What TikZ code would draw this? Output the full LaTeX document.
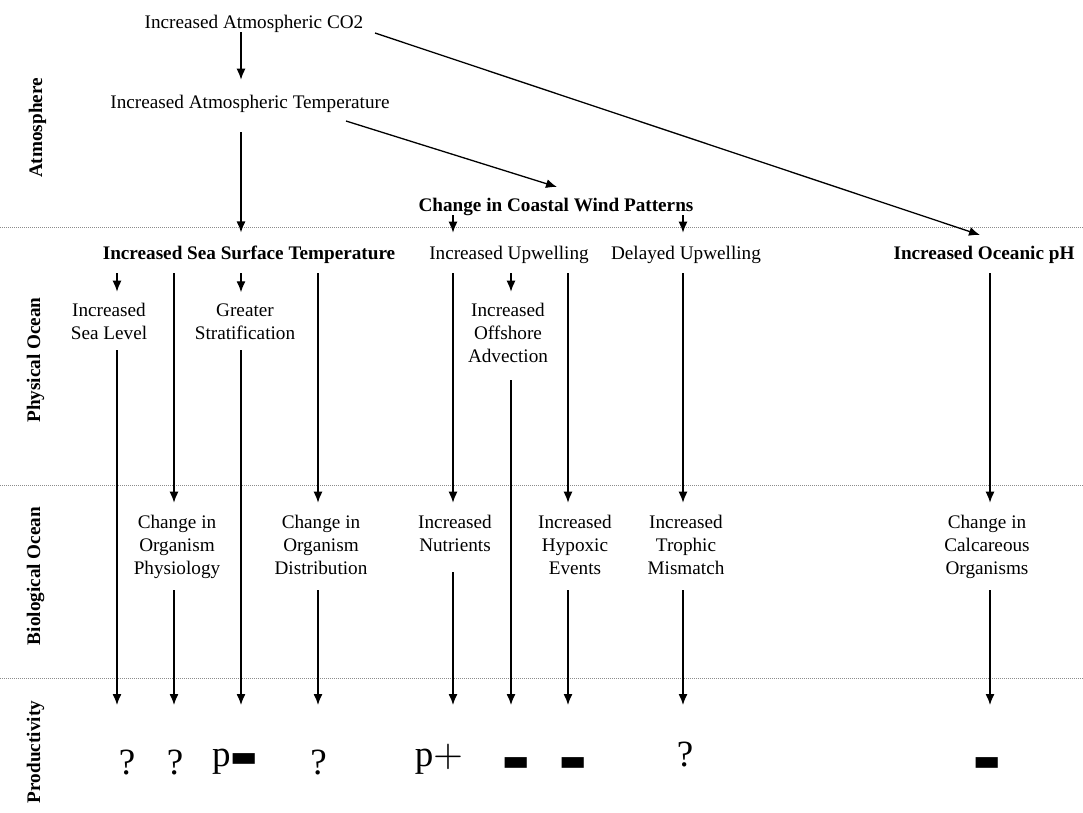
\documentclass[tikz,border=0pt]{standalone}
\usepackage{fontspec}
\setmainfont{Liberation Serif}
\newfontfamily\barfont{DejaVu Sans}
\newfontfamily\lmfont{lmroman10-regular.otf}
\usetikzlibrary{arrows.meta}
\newcommand{\fsz}{\fontsize{19.2}{23}\selectfont}
\newcommand{\bigsym}{\fontsize{37}{40}\selectfont}
\newcommand{\minusbar}{{\barfont\fontsize{29}{32}\selectfont ▬}}
\begin{document}
\begin{tikzpicture}[x=1pt,y=-1pt,
  lbl/.style={font=\fsz, align=center, inner sep=0pt, outer sep=0pt, anchor=base},
  blbl/.style={lbl, font=\fsz\bfseries},
  side/.style={font=\fsz\bfseries, rotate=90, anchor=base, inner sep=0pt},
  arr/.style={-{Latex[length=11pt,width=9pt]}, line width=1.3pt},
  sep/.style={black!45, line width=0.9pt, dash pattern=on 0.9pt off 1.1pt},
  sym/.style={inner sep=0pt, outer sep=0pt, font=\bigsym},
]
\fill[white] (0,0) rectangle (1083,812);
\useasboundingbox (0,0) rectangle (1083,812);

% layer separators
\draw[sep] (0,227) -- (1083,227);
\draw[sep] (0,485) -- (1083,485);
\draw[sep] (0,678) -- (1083,678);

% side labels
\node[side] (la) at (42,128) {Atmosphere};
\node[side] (lp) at (40,360) {Physical Ocean};
\node[side] (lb) at (40,576) {Biological Ocean};
\node[side] (lq) at (40,752) {Productivity};

% atmosphere
\node[lbl] (co2) at (254,28) {Increased Atmospheric CO2};
\node[lbl] (atmt) at (250,108) {Increased Atmospheric Temperature};
\node[blbl] (wind) at (556,211) {Change in Coastal Wind Patterns};

% physical ocean
\node[blbl] (sst) at (249,259) {Increased Sea Surface Temperature};
\node[lbl] (upw) at (509,259) {Increased Upwelling};
\node[lbl] (dup) at (686,259) {Delayed Upwelling};
\node[blbl] (ph) at (984,259) {Increased Oceanic pH};
\node[lbl] (sl) at (109,339) {Increased\\Sea Level};
\node[lbl] (strat) at (245,339) {Greater\\Stratification};
\node[lbl] (off) at (508,362) {Increased\\Offshore\\Advection};

% biological ocean
\node[lbl] (physl) at (177,574) {Change in\\Organism\\Physiology};
\node[lbl] (distr) at (321,574) {Change in\\Organism\\Distribution};
\node[lbl] (nutr) at (455,551) {Increased\\Nutrients};
\node[lbl] (hyp) at (575,574) {Increased\\Hypoxic\\Events};
\node[lbl] (tro) at (686,574) {Increased\\Trophic\\Mismatch};
\node[lbl] (calc) at (987,574) {Change in\\Calcareous\\Organisms};

% productivity
\coordinate (prod) at (0,705);
\node[sym] (q1) at (127,762.5) {?};
\node[sym] (q2) at (175,762.5) {?};
\node[sym, anchor=base] (pm) at (235,766) {p\minusbar};
\node[sym] (q4) at (318.5,762.5) {?};
\node[sym, anchor=base] (pp) at (439,766) {p{\lmfont\fontsize{38.5}{40}\selectfont +}};
\node[sym] (m1) at (516,764) {\minusbar};
\node[sym] (m2) at (573.5,764) {\minusbar};
\node[sym] (q8) at (685,754.5) {?};
\node[sym] (m3) at (987,764) {\minusbar};

% connectors
\draw[arr] ([xshift=-13pt]co2.south) -- ([xshift=-9pt,yshift=15pt]atmt.north);
\draw[arr] ([xshift=-9pt,yshift=-20pt]atmt.south) -- ([xshift=-8pt,yshift=13pt]sst.north);
\draw[arr] ([xshift=96pt,yshift=-13pt]atmt.base) -- ([xshift=1pt,yshift=24pt]wind.base);
\draw[arr] ([xshift=121pt,yshift=-5pt]co2.base) -- ([xshift=-4pt,yshift=24pt]ph.base);
\draw[arr] ([xshift=-103pt]wind.south) -- ([xshift=-56pt,yshift=13pt]upw.north);
\draw[arr] ([xshift=127pt]wind.south) -- ([xshift=-3pt,yshift=13pt]dup.north);

\draw[arr] ([xshift=-132pt,yshift=-10pt]sst.south) -- ([xshift=8pt,yshift=11pt]sl.north);
\draw[arr] ([xshift=-8pt,yshift=-10pt]sst.south) -- ([xshift=-4pt,yshift=11pt]strat.north);
\draw[arr] ([xshift=-75pt,yshift=-10pt]sst.south) -- ([xshift=-3pt,yshift=12pt]physl.north);
\draw[arr] ([xshift=69pt,yshift=-10pt]sst.south) -- ([xshift=-3pt,yshift=12pt]distr.north);
\draw[arr] ([xshift=-56pt,yshift=-10pt]upw.south) -- ([xshift=-2pt,yshift=12pt]nutr.north);
\draw[arr] ([xshift=2pt,yshift=-10pt]upw.south) -- ([xshift=3pt,yshift=11pt]off.north);
\draw[arr] ([xshift=59pt,yshift=-10pt]upw.south) -- ([xshift=-7pt,yshift=12pt]hyp.north);
\draw[arr] ([xshift=-3pt,yshift=-10pt]dup.south) -- ([xshift=-3pt,yshift=12pt]tro.north);
\draw[arr] ([xshift=6pt,yshift=-10pt]ph.south) -- ([xshift=3pt,yshift=12pt]calc.north);

\draw[arr] ([xshift=8pt,yshift=-11pt]sl.south) -- ([xshift=8pt]sl.south |- prod);
\draw[arr] ([xshift=-4pt,yshift=-11pt]strat.south) -- ([xshift=-4pt]strat.south |- prod);
\draw[arr] ([xshift=3pt,yshift=-18pt]off.south) -- ([xshift=3pt]off.south |- prod);
\draw[arr] ([xshift=-3pt,yshift=-12pt]physl.south) -- ([xshift=-3pt]physl.south |- prod);
\draw[arr] ([xshift=-3pt,yshift=-16pt]distr.south) -- ([xshift=-3pt]distr.south |- prod);
\draw[arr] ([xshift=-2pt,yshift=-21pt]nutr.south) -- ([xshift=-2pt]nutr.south |- prod);
\draw[arr] ([xshift=-7pt,yshift=-16pt]hyp.south) -- ([xshift=-7pt]hyp.south |- prod);
\draw[arr] ([xshift=-3pt,yshift=-16pt]tro.south) -- ([xshift=-3pt]tro.south |- prod);
\draw[arr] ([xshift=3pt,yshift=-12pt]calc.south) -- ([xshift=3pt]calc.south |- prod);
\end{tikzpicture}
\end{document}
